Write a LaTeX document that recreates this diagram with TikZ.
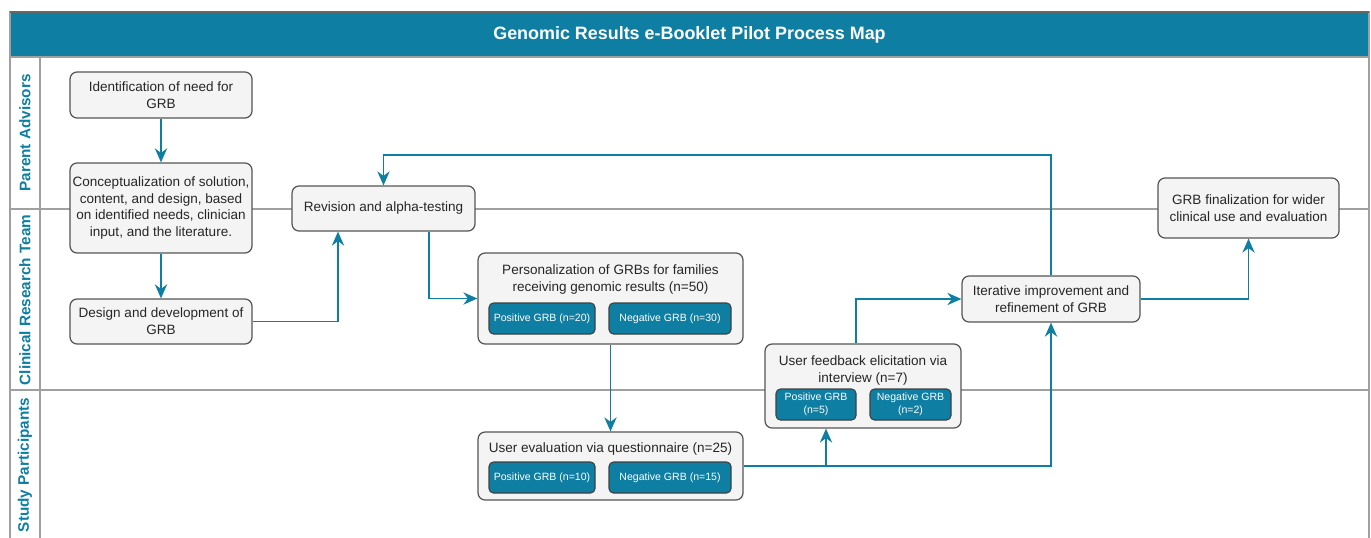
\documentclass[tikz,border=0pt]{standalone}
\usepackage{fontspec}
\setmainfont{Liberation Sans}
\usetikzlibrary{positioning,arrows.meta,calc}
\definecolor{grbteal}{HTML}{0E7EA2}
\definecolor{boxgray}{HTML}{F4F4F4}
\definecolor{edgegray}{HTML}{555555}
\definecolor{lanegray}{HTML}{A0A0A0}

\begin{document}
\begin{tikzpicture}[
  x=0.02cm, y=-0.02cm,
  >={Stealth[length=8pt,width=7pt,inset=2.6pt]},
  box/.style={
    draw=edgegray, fill=boxgray, rounded corners=4pt, line width=0.7pt,
    align=center, inner sep=1pt, text=black!85, font=\fontsize{7.7}{9.6}\selectfont
  },
  boxtext/.style={align=center, inner sep=0pt, text=black!85, font=\fontsize{7.7}{9.6}\selectfont},
  subbox/.style={
    draw=black!75, fill=grbteal, rounded corners=2.5pt, line width=0.6pt,
    align=center, inner sep=1pt, text=white, minimum height=0.62cm,
    font=\fontsize{6}{7.4}\selectfont
  },
  lanelabel/.style={rotate=90, text=grbteal, font=\fontsize{8.7}{10}\selectfont\bfseries},
  lane/.style={lanegray, line width=0.8pt},
  arrow/.style={->, grbteal, line width=0.85pt}
]
\useasboundingbox (0,0) rectangle (1371,537);
\fill[grbteal] (10,12) rectangle (1369,57);
\draw[lane] (10,57) -- (1369,57);
\draw[lane] (10,209) -- (1369,209);
\draw[lane] (10,390) -- (1369,390);
\draw[lane] (40,57) -- (40,560);
\draw[lane] (10,12) rectangle (1369,560);
\draw[black!60, line width=0.8pt] (10,12) -- (1369,12);

\node[text=white, font=\fontsize{10.2}{12}\selectfont\bfseries] (title) at (689.5,34.5)
  {Genomic Results e-Booklet Pilot Process Map};
\node[lanelabel] (laneparent) at (25,133) {Parent Advisors};
\node[lanelabel] (laneclinical) at (25,300) {Clinical Research Team};
\node[lanelabel] (lanestudy) at (25,465) {Study Participants};

\node[box, minimum width=3.64cm, minimum height=0.92cm] (ident) at (161,95)
  {Identification of need for\\GRB};
\node[box, minimum width=3.64cm, minimum height=1.8cm] (concept) at (161,208)
  {Conceptualization of solution,\\content, and design, based\\on identified needs, clinician\\input, and the literature.};
\node[box, minimum width=3.64cm, minimum height=0.9cm] (design) at (161,321.5)
  {Design and development of\\GRB};
\node[box, minimum width=3.66cm, minimum height=0.9cm] (revision) at (383.5,208.5)
  {Revision and alpha-testing};

\node[box, minimum width=5.3cm, minimum height=1.82cm] (perso) at (610.5,298.5) {};
\node[boxtext] (persotext) at (610.5,279.5)
  {Personalization of GRBs for families\\receiving genomic results (n=50)};
\node[subbox, minimum width=2.12cm] (persopos) at (542,318.5) {Positive GRB (n=20)};
\node[subbox, minimum width=2.44cm] (personeg) at (670,318.5) {Negative GRB (n=30)};

\node[box, minimum width=5.3cm, minimum height=1.36cm] (eval) at (610.5,466) {};
\node[boxtext] (evaltext) at (610.5,449) {User evaluation via questionnaire (n=25)};
\node[subbox, minimum width=2.12cm] (evalpos) at (542,477.5) {Positive GRB (n=10)};
\node[subbox, minimum width=2.44cm] (evalneg) at (670,477.5) {Negative GRB (n=15)};

\node[box, minimum width=3.92cm, minimum height=1.68cm] (feedback) at (863,386) {};
\node[boxtext] (feedbacktext) at (863,370.5)
  {User feedback elicitation via\\interview (n=7)};
\node[subbox, minimum width=1.6cm] (feedbackpos) at (816,404.5) {Positive GRB\\(n=5)};
\node[subbox, minimum width=1.62cm] (feedbackneg) at (910.5,404.5) {Negative GRB\\(n=2)};

\node[box, minimum width=3.56cm, minimum height=0.92cm] (iter) at (1051,299)
  {Iterative improvement and\\refinement of GRB};
\node[box, minimum width=3.62cm, minimum height=1.2cm] (final) at (1248.5,208)
  {GRB finalization for wider\\clinical use and evaluation};

\coordinate (loopback) at (1051,155);
\draw[arrow] (ident) -- (concept);
\draw[arrow] (concept) -- (design);
\draw[arrow] (design.east) -| ($(revision.south)+(-45.5,0)$);
\draw[arrow] ($(revision.south)+(45.5,0)$) |- (perso.west);
\draw[arrow] (perso.south) -- (eval.north);
\draw[arrow] (eval.east) -| ($(feedback.south)+(-37,0)$);
\draw[arrow] (eval.east) -| (iter.south);
\draw[arrow] ($(feedback.north)+(-7,0)$) |- (iter.west);
\draw[arrow] (iter.north) -- (loopback) -| (revision.north);
\draw[arrow] (iter.east) -| (final.south);
\end{tikzpicture}
\end{document}
